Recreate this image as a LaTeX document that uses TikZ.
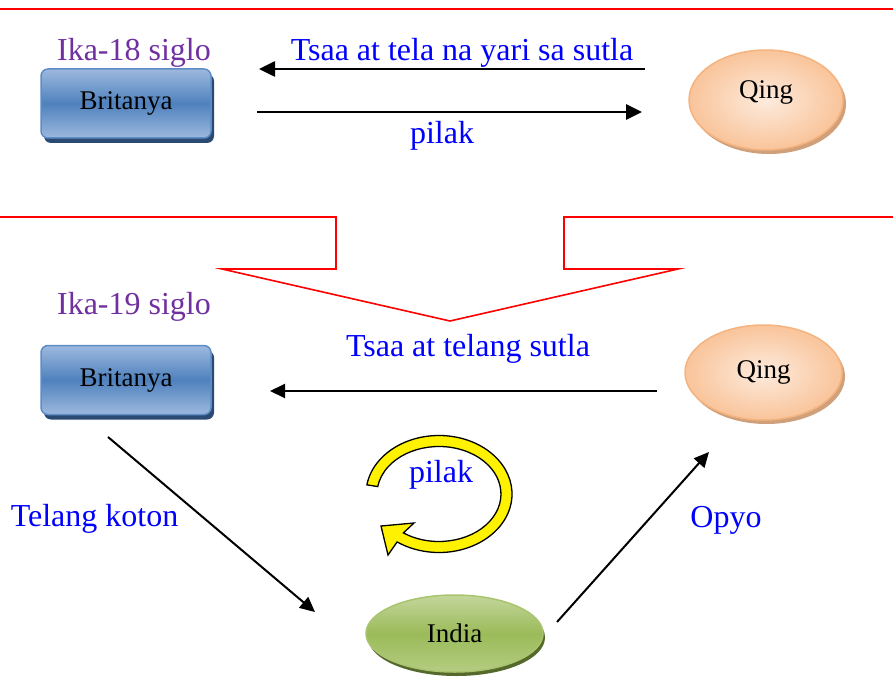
\documentclass[tikz,border=0pt]{standalone}
\usepackage{fontspec}
\setmainfont{Liberation Serif}
\usetikzlibrary{shapes.geometric,shadows,arrows.meta}
\definecolor{txtblue}{HTML}{0000FF}
\definecolor{purp}{HTML}{7030A0}
\definecolor{boxlight}{HTML}{9DB9DE}
\definecolor{boxmid}{HTML}{4F81BD}
\definecolor{boxborder}{HTML}{5E8CC6}
\definecolor{boxshadow}{HTML}{2B4A73}
\definecolor{qinglight}{HTML}{FDEBDD}
\definecolor{qingdark}{HTML}{F9C49A}
\definecolor{qingborder}{HTML}{F5B47F}
\definecolor{qingshadow}{HTML}{CFA07A}
\definecolor{indtop}{HTML}{C3D69B}
\definecolor{indmid}{HTML}{9BBB59}
\definecolor{indbot}{HTML}{B4CC82}
\definecolor{indborder}{HTML}{A9C46E}
\definecolor{indshadow}{HTML}{55692C}
\definecolor{redln}{HTML}{FF0000}
\begin{document}
\begin{tikzpicture}[x=1pt,y=-1pt,
  lbl/.style={font=\fontsize{32}{37}\selectfont, anchor=base, inner sep=0pt},
  blbl/.style={lbl, text=txtblue},
  era/.style={lbl, text=purp},
  nodefont/.style={font=\fontsize{27}{32}\selectfont, inner sep=0pt, outer sep=0pt},
  brit/.style={nodefont, rectangle, rounded corners=7pt, minimum width=170pt, minimum height=69pt,
    draw=boxborder, line width=1.5pt, top color=boxlight, bottom color=boxlight, middle color=boxmid,
    drop shadow={shadow xshift=3pt, shadow yshift=-5pt, fill=boxshadow, opacity=1}},
  qing/.style={nodefont, ellipse, minimum width=154pt, minimum height=100pt,
    draw=qingborder, line width=1.5pt, inner color=qinglight, outer color=qingdark,
    drop shadow={shadow xshift=3pt, shadow yshift=-4pt, fill=qingshadow, opacity=1}},
  india/.style={nodefont, ellipse, minimum width=177pt, minimum height=77pt,
    draw=indborder, line width=1.5pt, top color=indtop, bottom color=indbot, middle color=indmid,
    drop shadow={shadow xshift=2pt, shadow yshift=-4pt, fill=indshadow, opacity=1}},
  redline/.style={draw=redln, line width=1.6pt},
  bigarr/.style={line width=2.6pt, -{Triangle[length=16pt,width=15pt]}},
  arr/.style={line width=2pt, -{Triangle[length=15pt,width=14pt]}}
]
\useasboundingbox (0,0) rectangle (893,679);

% red frame lines
\draw[redline] (0,9) -- (893,9);
\draw[redline] (0,217) -- (336,217) -- (336,269) -- (222,269) -- (450,321) -- (678,269)
  -- (564,269) -- (564,217) -- (893,217);

% nodes
\node[brit] (brit1) at (126,103.5) {Britanya};
\node[qing, text depth=20pt] (qing1) at (766,100) {Qing};
\node[brit] (brit2) at (126,380) {Britanya};
\node[qing, minimum width=157pt, minimum height=95pt] (qing2) at (763.5,372.5) {Qing};
\node[india] (india) at (454.5,633.5) {India};

% labels
\node[era] (era1) at (134,61) {Ika-18 siglo};
\node[blbl] (lab1) at (462,61) {Tsaa at tela na yari sa sutla};
\node[blbl] (lab2) at (442,144) {pilak};
\node[era] (era2) at (134,314) {Ika-19 siglo};
\node[blbl] (lab3) at (468,356) {Tsaa at telang sutla};
\node[blbl] (lab4) at (94.5,526) {Telang koton};
\node[blbl] (lab5) at (726,527) {Opyo};

% connector end points
\coordinate (t1s) at (645,69);
\coordinate (t1e) at (259,69);
\coordinate (t2s) at (257,112);
\coordinate (t2e) at (642,112);
\coordinate (m1s) at (657,391);
\coordinate (m1e) at (270,391);
\coordinate (d1s) at (108,437);
\coordinate (d1e) at (315,612);
\coordinate (d2s) at (557,622);
\coordinate (d2e) at (709,452);

\draw[bigarr] (t1s) -- (t1e);
\draw[bigarr] (t2s) -- (t2e);
\draw[arr] (m1s) -- (m1e);
\draw[arr] (d1s) -- (d1e);
\draw[arr] (d2s) -- (d2e);

% yellow circular arrow
\draw[fill=yellow, draw=black, line width=1.3pt, line join=miter]
  (439,494) ++(-171:73 and 58.5)
  arc[start angle=-171, end angle=125, x radius=73, y radius=58.5]
  -- (388,555) -- (381,526) -- (414,523) -- (403.4,532.9)
  arc[start angle=125, end angle=-171, x radius=62, y radius=47.5] -- cycle;
\node[blbl] (lab6) at (441,482) {pilak};
\end{tikzpicture}
\end{document}
